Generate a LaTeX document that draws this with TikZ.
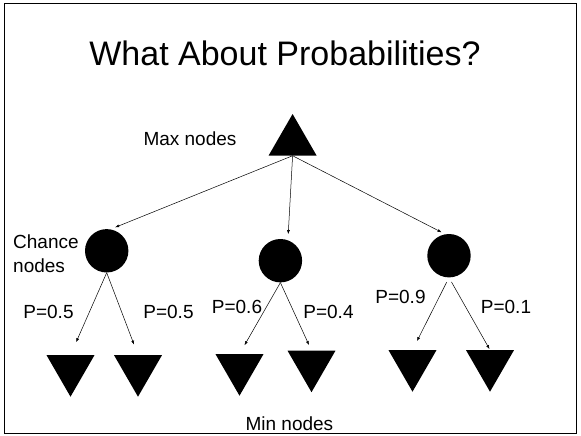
\documentclass[tikz,border=0pt]{standalone}
\usepackage{fontspec}
\setmainfont{Liberation Sans}
\usetikzlibrary{arrows.meta,shapes.geometric}
\tikzset{
  maxnode/.style={regular polygon,regular polygon sides=3,fill=black,inner sep=0pt,minimum size=55.4pt},
  minnode/.style={maxnode,regular polygon rotate=180},
  chancenode/.style={circle,fill=black,inner sep=0pt,minimum size=43.4pt},
  plabel/.style={anchor=base,inner sep=0pt,font=\fontsize{19}{24.5}\selectfont},
  flow/.style={-{Latex[length=4pt,width=3pt]},line width=.5pt},
}

\begin{document}
\begin{tikzpicture}[x=1pt,y=-1pt]
    \useasboundingbox (0,0) rectangle (581,436);
    \draw[line width=1.5pt] (4.5,3.5) rectangle (576.5,433.5);
    \node[plabel,font=\fontsize{34}{40}\selectfont] (title) at (285,66) {What About Probabilities?};
    % tree
    \node[maxnode] (max) at (292.6,141.7) {};
    \node[chancenode] (c1) at (106.7,250.8) {};
    \node[chancenode] (c2) at (280.4,260.7) {};
    \node[chancenode] (c3) at (449,255.7) {};
    \node[minnode] (m1) at (70.5,369) {};
    \node[minnode] (m2) at (138,369) {};
    \node[minnode] (m3) at (239.5,368) {};
    \node[minnode] (m4) at (311.5,364.5) {};
    \node[minnode] (m5) at (412.5,364) {};
    \node[minnode] (m6) at (490,364) {};
    % labels
    \node[plabel] (maxlbl) at (190,145) {Max nodes};
    \node[plabel,anchor=north west,align=left] (chancelbl) at (13,234.5) {Chance\\nodes};
    \node[plabel] (minlbl) at (289.4,430) {Min nodes};
    \node[plabel] (p1) at (48.5,318) {P=0.5};
    \node[plabel] (p2) at (168.5,318) {P=0.5};
    \node[plabel] (p3) at (237,313) {P=0.6};
    \node[plabel] (p4) at (328.5,318) {P=0.4};
    \node[plabel] (p5) at (400.5,303) {P=0.9};
    \node[plabel] (p6) at (506,313.5) {P=0.1};
    % connectors
    \draw[flow,shorten >=5pt] (max.side 2) -- (c1.80);
    \draw[flow,shorten >=6pt] (max.side 2) -- (c2.70);
    \draw[flow,shorten >=4pt] (max.side 2) -- (c3.100);
    \draw[flow,shorten >=14pt] (c1.south) -- (m1.side 2);
    \draw[flow,shorten >=11pt] (c1.south) -- (m2.side 2);
    \draw[flow,shorten >=10pt] (c2.south) -- (m3.side 2);
    \draw[flow,shorten >=6pt] (c2.south) -- (m4.side 2);
    \draw[flow,shorten <=5pt,shorten >=10pt] (c3.south) -- (m5.side 2);
    \draw[flow,shorten <=5pt,shorten >=1pt] (c3.south) -- (m6.side 2);
\end{tikzpicture}
\end{document}
